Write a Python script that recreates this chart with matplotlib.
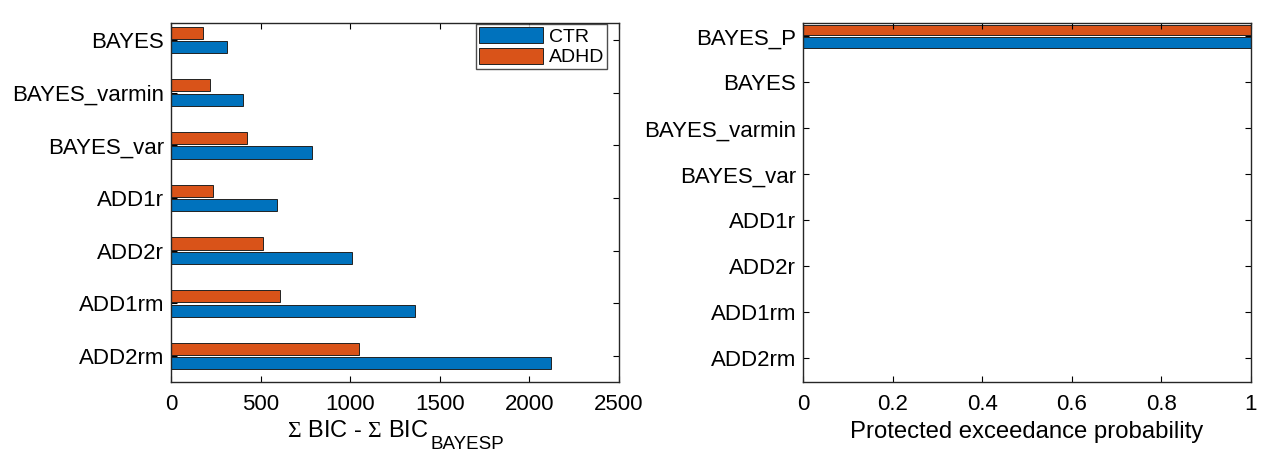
import matplotlib
matplotlib.use('Agg')
import matplotlib.pyplot as plt
import numpy as np

plt.rcParams['font.family'] = ['Liberation Sans', 'DejaVu Sans']
plt.rcParams['mathtext.fontset'] = 'custom'
plt.rcParams['mathtext.rm'] = 'Liberation Serif'
plt.rcParams['mathtext.sf'] = 'Liberation Sans'

# data
models = ['BAYES', 'BAYES_varmin', 'BAYES_var', 'ADD1r', 'ADD2r', 'ADD1rm', 'ADD2rm']
bic_ctr = [311, 404, 786, 590, 1011, 1361, 2121]
bic_adhd = [179, 216, 426, 233, 514, 609, 1048]

pxp_models = ['BAYES_P', 'BAYES', 'BAYES_varmin', 'BAYES_var', 'ADD1r', 'ADD2r', 'ADD1rm', 'ADD2rm']
pxp_ctr = [1, 0, 0, 0, 0, 0, 0, 0]
pxp_adhd = [1, 0, 0, 0, 0, 0, 0, 0]

blue = '#0072BD'
orange = '#D95319'

W, H = 1261, 454
fig = plt.figure(figsize=(W / 100, H / 100), dpi=100)


def style(ax):
    ax.tick_params(direction='in', length=4, width=0.8, top=True, right=True,
                   labelsize=16)
    ax.tick_params(axis='y', pad=5)
    ax.tick_params(axis='x', pad=9)
    for s in ax.spines.values():
        s.set_linewidth(1.0)
        s.set_color('#262626')


# left panel
ax1 = fig.add_axes([171 / W, (H - 382) / H, 448 / W, 359 / H])
y = np.arange(len(models))
ax1.barh(y + 0.137, bic_ctr, height=0.23, color=blue, edgecolor='#222222',
         linewidth=0.7, label='CTR')
ax1.barh(y - 0.137, bic_adhd, height=0.23, color=orange, edgecolor='#222222',
         linewidth=0.7, label='ADHD')
ax1.set_yticks(y)
ax1.set_yticklabels(models)
ax1.set_ylim(6.49, -0.32)
ax1.set_xlim(0, 2500)
ax1.set_xticks([0, 500, 1000, 1500, 2000, 2500])
style(ax1)
leg = ax1.legend(loc='upper right', fontsize=14, handlelength=3.3, handleheight=0.9,
                 frameon=True, fancybox=False, edgecolor='#222222',
                 borderpad=0.15, labelspacing=0.1, handletextpad=0.3,
                 borderaxespad=0.0, bbox_to_anchor=(436 / 448, 1 - 1 / 359))
leg.get_frame().set_linewidth(1.0)

# x label with a large, low subscript (as in the original figure)
fig.text(428 / W, (H - 437) / H, r'$\Sigma$ BIC - $\Sigma$ BIC', ha='right',
         va='baseline', fontsize=17)
fig.text(430 / W, (H - 449) / H, 'BAYESP', ha='left', va='baseline', fontsize=13.5)

# right panel
ax2 = fig.add_axes([803 / W, (H - 382) / H, 448 / W, 359 / H])
y2 = np.arange(len(pxp_models))
ax2.barh(y2 + 0.14, pxp_ctr, height=0.23, color=blue, edgecolor='#222222',
         linewidth=0.7)
ax2.barh(y2 - 0.14, pxp_adhd, height=0.23, color=orange, edgecolor='#222222',
         linewidth=0.7)
ax2.set_yticks(y2)
ax2.set_yticklabels(pxp_models)
ax2.set_ylim(7.52, -0.29)
ax2.set_xlim(0, 1)
ax2.set_xticks([0, 0.2, 0.4, 0.6, 0.8, 1])
ax2.set_xticklabels(['0', '0.2', '0.4', '0.6', '0.8', '1'])
ax2.set_xlabel('Protected exceedance probability', fontsize=17.2, labelpad=4)
style(ax2)

fig.savefig('out.png', dpi=100)
